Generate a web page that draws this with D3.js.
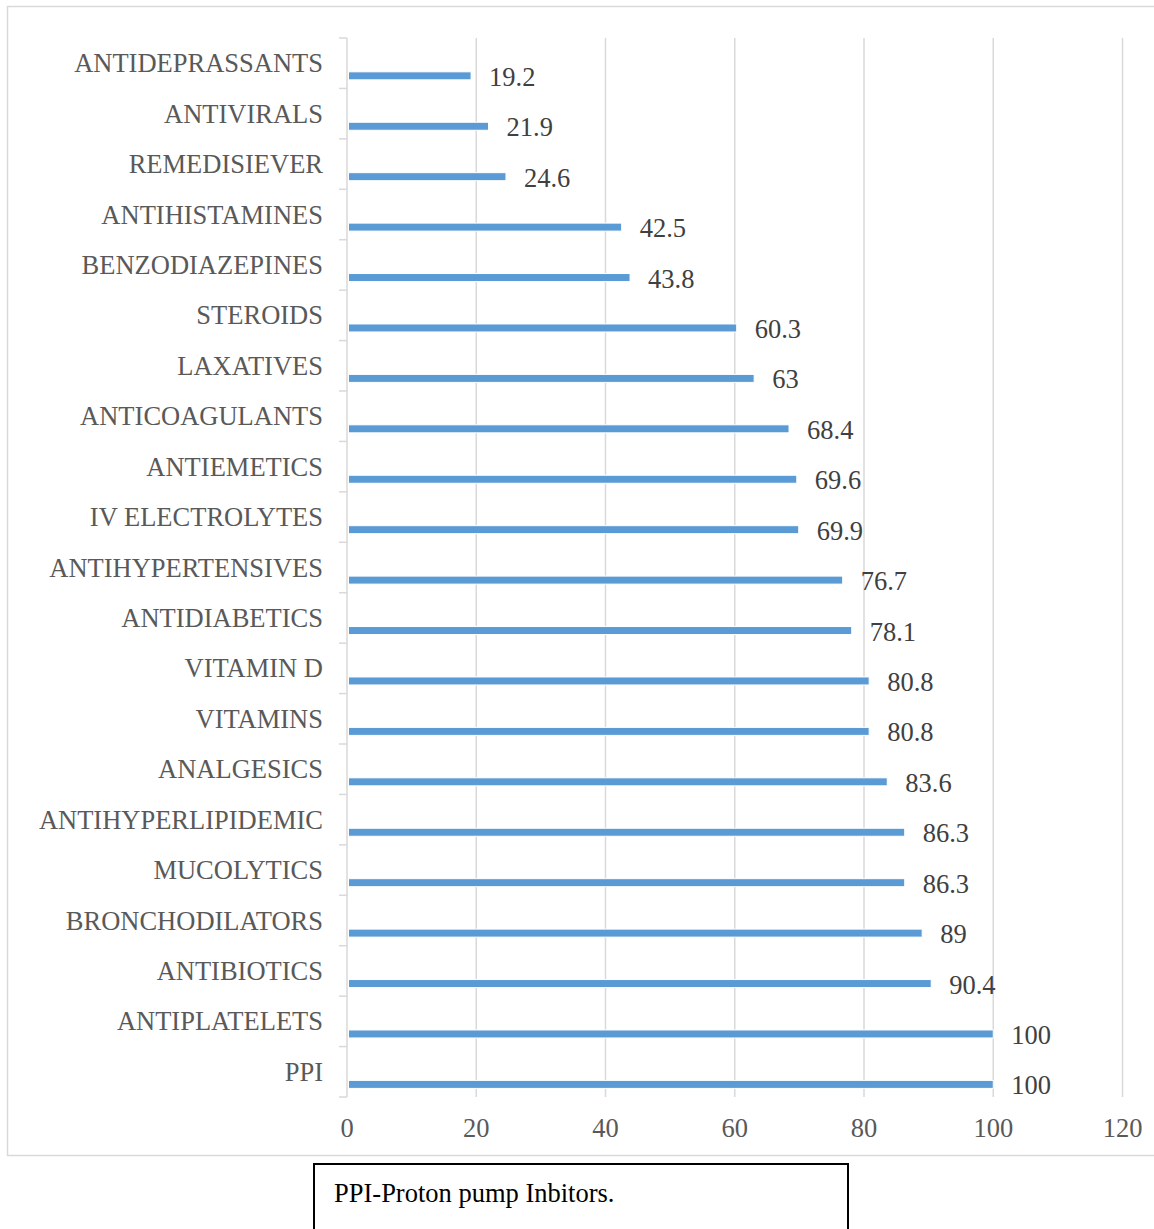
<!DOCTYPE html>
<html>
<head>
<meta charset="utf-8">
<script src="https://cdn.jsdelivr.net/npm/d3@7"></script>
<style>
  html, body { margin: 0; padding: 0; background: #fff; }
  svg { display: block; }
  text { font-family: "Liberation Serif", "Times New Roman", serif; }
</style>
</head>
<body>
<script>
// Drug classes, listed top to bottom
const categories = [
  "ANTIDEPRASSANTS", "ANTIVIRALS", "REMEDISIEVER", "ANTIHISTAMINES",
  "BENZODIAZEPINES", "STEROIDS", "LAXATIVES", "ANTICOAGULANTS",
  "ANTIEMETICS", "IV ELECTROLYTES", "ANTIHYPERTENSIVES", "ANTIDIABETICS",
  "VITAMIN D", "VITAMINS", "ANALGESICS", "ANTIHYPERLIPIDEMIC",
  "MUCOLYTICS", "BRONCHODILATORS", "ANTIBIOTICS", "ANTIPLATELETS", "PPI"
];
const values = [
  19.2, 21.9, 24.6, 42.5, 43.8, 60.3, 63, 68.4, 69.6, 69.9, 76.7, 78.1,
  80.8, 80.8, 83.6, 86.3, 86.3, 89, 90.4, 100, 100
];
const xTicks = [0, 20, 40, 60, 80, 100, 120];
const footnote = "PPI-Proton pump Inbitors.";

const W = 1154, H = 1229;
const FS = 26.5;
const svg = d3.select("body").append("svg").attr("width", W).attr("height", H);

// Chart area frame
svg.append("rect")
  .attr("x", 7.5).attr("y", 6.5).attr("width", 1160).attr("height", 1149)
  .attr("fill", "#fff").attr("stroke", "#d9d9d9").attr("stroke-width", 1.5);

const x = d3.scaleLinear().domain([0, 120]).range([347, 1122.5]);
const y = d3.scaleBand().domain(categories).range([38, 1097]).paddingInner(0).paddingOuter(0);

// Vertical gridlines
svg.append("g").selectAll("line").data(xTicks.filter(d => d > 0)).join("line")
  .attr("x1", d => x(d)).attr("x2", d => x(d))
  .attr("y1", 38).attr("y2", 1097)
  .attr("stroke", "#d9d9d9").attr("stroke-width", 1.5);

// Category axis with outside ticks at band boundaries
const ax = svg.append("g");
ax.append("line")
  .attr("x1", x(0)).attr("x2", x(0)).attr("y1", 38).attr("y2", 1097)
  .attr("stroke", "#d9d9d9").attr("stroke-width", 1.5);
const bounds = categories.map(c => y(c)).concat([1097]);
ax.selectAll("line.tk").data(bounds).join("line").attr("class", "tk")
  .attr("x1", x(0) - 8).attr("x2", x(0)).attr("y1", d => d).attr("y2", d => d)
  .attr("stroke", "#d9d9d9").attr("stroke-width", 1.5);

// Bars (sit in the lower part of each band)
const barH = 8;
svg.append("g").selectAll("rect").data(categories).join("rect")
  .attr("x", x(0) + 1.5)
  .attr("y", (d) => y(d) + y.bandwidth() * 0.75 - barH / 2)
  .attr("width", (d, i) => x(values[i]) - x(0) - 1.5)
  .attr("height", barH)
  .attr("fill", "#5b9bd5")
  .attr("stroke", "#fff").attr("stroke-width", 1);

// Value labels
svg.append("g").selectAll("text").data(categories).join("text")
  .attr("x", (d, i) => x(values[i]) + 18)
  .attr("y", d => y(d) + y.bandwidth() * 0.75 + 10)
  .attr("font-size", FS).attr("fill", "#404040")
  .text((d, i) => d3.format("~g")(values[i]));

// Category labels
svg.append("g").selectAll("text").data(categories).join("text")
  .attr("x", 323).attr("y", d => y(d) + y.bandwidth() / 2 + 9)
  .attr("text-anchor", "end")
  .attr("font-size", FS).attr("fill", "#595959")
  .text(d => d);

// Value axis tick labels
svg.append("g").selectAll("text").data(xTicks).join("text")
  .attr("x", d => x(d)).attr("y", 1137)
  .attr("text-anchor", "middle")
  .attr("font-size", FS).attr("fill", "#595959")
  .text(d => d);

// Footnote box
svg.append("rect")
  .attr("x", 314).attr("y", 1164).attr("width", 534).attr("height", 70)
  .attr("fill", "#fff").attr("stroke", "#000").attr("stroke-width", 2);
svg.append("text")
  .attr("x", 334).attr("y", 1202)
  .attr("font-size", FS).attr("fill", "#000")
  .text(footnote);
</script>
</body>
</html>
